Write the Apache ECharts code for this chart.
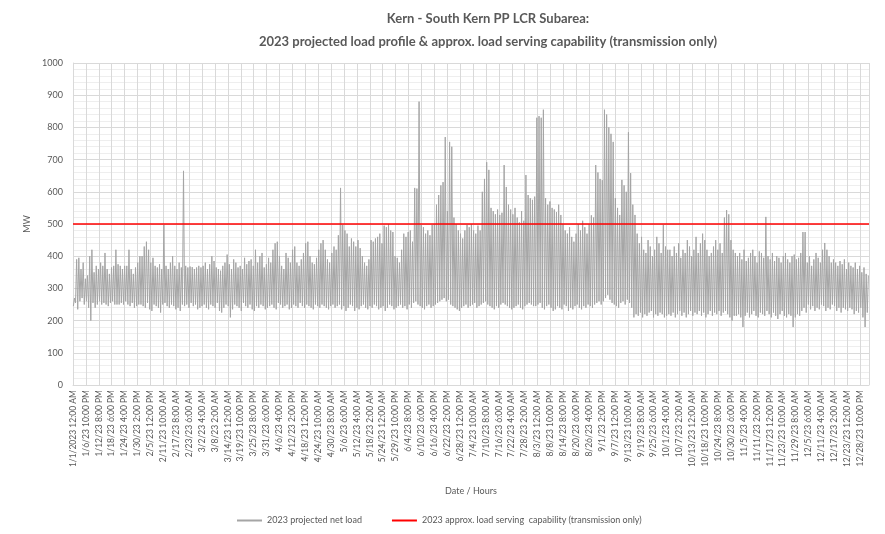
<!DOCTYPE html>
<html>
<head>
<meta charset="utf-8">
<script src="https://cdn.jsdelivr.net/npm/echarts@6/dist/echarts.min.js"></script>
<style>
  html, body { margin: 0; padding: 0; background: #fff; }
  #chart { width: 885px; height: 534px; }
</style>
</head>
<body>
<div id="chart"></div>
<script>
// 每日峰值 / 低谷 (MW)，按月读图估计
var janPeak = [270,390,395,360,380,330,340, 400,420,350,370,360,380,370, 410,360,345,365,370,420,375, 370,360,370,370,420,360,345, 365,380,400];
var janLow  = [245,255,235,260,270,250,260, 240,200,255,240,250,260,250, 255,250,245,255,260,250,250, 250,255,250,260,250,245,255, 240,245,250];
var febPeak = [400,430,445,420,380,395,370, 365,375,360,497,370,360,380, 400,370,360,380,365,665,370, 365,368,366,360,365,370,365];
var febLow  = [250,245,240,255,235,230,250, 245,240,225,250,255,245,240, 250,245,235,240,230,250,245, 250,240,255,245,250,235,240];
var marPeak = [370,380,360,375,400,385,365, 360,355,370,380,405,375,360, 390,380,365,370,360,395,375, 385,390,370,420,380,400,410, 365,375,395];
var marLow  = [245,250,240,235,250,245,240, 255,230,225,240,250,245,210, 235,250,245,240,230,255,245, 240,250,235,230,245,240,250, 245,235,240];
var aprPeak = [380,420,440,445,400,370,360, 410,395,380,420,430,380,370, 390,410,440,445,400,380,375, 395,420,440,450,420,390,380, 410,430];
var aprLow  = [245,250,240,235,255,250,240, 245,250,235,240,250,245,240, 255,245,240,250,245,240,235, 250,245,240,250,245,240,235, 245,250];
var mayPeak = [420,465,612,497,480,470,430, 455,445,430,450,425,400,380, 370,390,450,445,455,460,470, 440,495,490,500,480,475,400, 395,380,420];
var mayLow  = [240,245,250,235,245,230,240, 250,245,230,240,235,245,250, 240,235,245,240,250,245,235, 240,245,230,240,250,245,235, 240,245,250];
var junPeak = [470,460,475,480,445,612,610,880,497,490, 470,480,465,497,500,560,590,620,630,770, 540,755,740,520,500,480,470,455,480,497];
var junLow  = [240,245,235,250,240,255,260,250,245,240, 235,245,250,240,245,250,255,260,265,270, 260,265,250,245,240,235,230,240,245,250];
var julPeak = [490,500,480,470,495,480,600,640,692,668, 550,540,530,545,528,535,683,615,560,545, 530,550,520,505,540,510,652,590,580,575, 585];
var julLow  = [240,245,250,255,240,245,250,255,260,250, 245,240,235,245,240,250,255,250,245,240, 235,240,245,250,240,235,245,250,255,250, 245];
var augPeak = [830,835,830,855, 580,560,570,550,545,537,560, 528,500,480,470,490,460,445,470,500,480, 510,490,470,500,527,520,683,660,640,636];
var augLow  = [245,250,255,240, 235,245,250,240,230,235,245, 240,235,250,245,230,240,235,245,250,240, 235,245,240,250,245,240,250,255,260,250];
var sepPeak = [855,840,800,780,755,580,550,528,637,620, 600,785,658,560,528,470,440,460,420,410, 450,430,400,420,460,440,410,497,430,420];
var sepLow  = [260,270,280,265,255,250,245,240,255,260, 250,265,255,240,210,220,215,225,210,220, 215,225,230,210,220,215,225,220,210,215];
var octPeak = [420,400,430,410,440,395,420, 410,450,430,400,420,460,410, 440,470,450,420,400,410,430, 450,420,440,410,520,543,530,450,420, 410];
var octLow  = [220,215,225,210,220,230,215, 225,210,220,230,215,225,220, 230,215,225,210,220,230,215, 225,220,230,215,225,230,220,210,200, 215];
var novPeak = [400,410,390,420,385,395,410, 420,400,380,415,410,395,522, 400,390,410,385,400,395,380, 400,410,390,380,400,405,390, 395,410];
var novLow  = [215,220,210,180,215,225,210, 220,230,215,210,225,220,215, 230,220,210,225,215,205,220, 230,215,210,220,215,180,210, 220,215];
var decPeak = [475,475,380,400,370,390,410, 395,380,420,441,420,400,380, 390,380,370,385,375,390,360, 380,370,365,380,360,370,350, 365,345,340];
var decLow  = [230,240,225,250,235,245,230, 240,235,250,245,230,240,235, 250,245,230,240,225,240,235, 230,240,235,220,230,225,240, 210,180,225];

// 输电能力上限 (MW)
var capability = 500;

// x轴标签（每142小时一个）
var tickLabels = [
  "1/1/2023 12:00 AM","1/6/23 10:00 PM","1/12/23 8:00 PM","1/18/23 6:00 PM","1/24/23 4:00 PM",
  "1/30/23 2:00 PM","2/5/23 12:00 PM","2/11/23 10:00 AM","2/17/23 8:00 AM","2/23/23 6:00 AM",
  "3/2/23 4:00 AM","3/8/23 2:00 AM","3/14/23 12:00 AM","3/19/23 10:00 PM","3/25/23 8:00 PM",
  "3/31/23 6:00 PM","4/6/23 4:00 PM","4/12/23 2:00 PM","4/18/23 12:00 PM","4/24/23 10:00 AM",
  "4/30/23 8:00 AM","5/6/23 6:00 AM","5/12/23 4:00 AM","5/18/23 2:00 AM","5/24/23 12:00 AM",
  "5/29/23 10:00 PM","6/4/23 8:00 PM","6/10/23 6:00 PM","6/16/23 4:00 PM","6/22/23 2:00 PM",
  "6/28/23 12:00 PM","7/4/23 10:00 AM","7/10/23 8:00 AM","7/16/23 6:00 AM","7/22/23 4:00 AM",
  "7/28/23 2:00 AM","8/3/23 12:00 AM","8/8/23 10:00 PM","8/14/23 8:00 PM","8/20/23 6:00 PM",
  "8/26/23 4:00 PM","9/1/23 2:00 PM","9/7/23 12:00 PM","9/13/23 10:00 AM","9/19/23 8:00 AM",
  "9/25/23 6:00 AM","10/1/23 4:00 AM","10/7/23 2:00 AM","10/13/23 12:00 AM","10/18/23 10:00 PM",
  "10/24/23 8:00 PM","10/30/23 6:00 PM","11/5/23 4:00 PM","11/11/23 2:00 PM","11/17/23 12:00 PM",
  "11/23/23 10:00 AM","11/29/23 8:00 AM","12/5/23 6:00 AM","12/11/23 4:00 AM","12/17/23 2:00 AM",
  "12/23/23 12:00 AM","12/28/23 10:00 PM"
];
var tickStep = 142; // 小时

var dailyPeak = [].concat(janPeak, febPeak, marPeak, aprPeak, mayPeak, junPeak, julPeak, augPeak, sepPeak, octPeak, novPeak, decPeak);
var dailyLow = [].concat(janLow, febLow, marLow, aprLow, mayLow, junLow, julLow, augLow, sepLow, octLow, novLow, decLow);

// 每天两个点：凌晨低谷、下午峰值
var loadData = [];
dailyPeak.forEach(function (p, d) {
  loadData.push([d * 24 + 4, dailyLow[d]]);
  loadData.push([d * 24 + 16, p]);
});

var gray = "#595959";
var myChart = echarts.init(document.getElementById("chart"));
var option = {
  animation: false,
  backgroundColor: "#fff",
  title: {
    text: "Kern - South Kern PP LCR Subarea:\n2023 projected load profile & approx. load serving capability (transmission only)",
    left: 483,
    top: 2,
    textAlign: "center",
    textStyle: {
      fontFamily: "Lato",
      fontSize: 13,
      fontWeight: "bold",
      color: gray,
      lineHeight: 23
    }
  },
  legend: {
    left: 232,
    top: 511,
    itemGap: 30,
    itemWidth: 25,
    itemHeight: 2,
    icon: "rect",
    textStyle: { fontSize: 9, color: gray, fontFamily: "Lato" },
    data: ["2023 projected net load", "2023 approx. load serving  capability (transmission only)"]
  },
  grid: {
    left: 73,
    right: 16,
    top: 63,
    bottom: 149,
    containLabel: false
  },
  xAxis: {
    type: "value",
    min: 0,
    max: 8759,
    interval: tickStep,
    name: "Date / Hours",
    nameLocation: "middle",
    nameGap: 102,
    nameTextStyle: { fontSize: 9, color: gray, fontFamily: "Lato" },
    axisLine: { lineStyle: { color: "#d9d9d9" } },
    axisTick: { show: false },
    axisLabel: {
      rotate: 90,
      fontSize: 8.5,
      color: gray,
      fontFamily: "Lato",
      margin: 5,
      showMaxLabel: false,
      formatter: function (v) {
        var i = Math.round(v / tickStep);
        return v % tickStep === 0 && tickLabels[i] ? tickLabels[i] : "";
      }
    },
    splitLine: { show: true, lineStyle: { color: "#d9d9d9", width: 1 } }
  },
  yAxis: {
    type: "value",
    min: 0,
    max: 1000,
    interval: 100,
    name: "MW",
    nameLocation: "middle",
    nameRotate: 90,
    nameGap: 36,
    nameTextStyle: { fontSize: 9, color: gray, fontFamily: "Lato" },
    axisLine: { show: true, lineStyle: { color: "#d9d9d9" } },
    axisTick: { show: false },
    axisLabel: {
      fontSize: 9, color: gray, fontFamily: "Lato", margin: 10,
      formatter: function (v) { return String(v); }
    },
    splitLine: { lineStyle: { color: "#d9d9d9" } },
    minorSplitLine: { show: true, lineStyle: { color: "#eeeeee" } },
    minorTick: { show: false, splitNumber: 5 }
  },
  series: [
    {
      name: "2023 projected net load",
      type: "line",
      symbol: "none",
      lineStyle: { color: "#a5a5a5", width: 1 },
      itemStyle: { color: "#a5a5a5" },
      data: loadData
    },
    {
      name: "2023 approx. load serving  capability (transmission only)",
      type: "line",
      symbol: "none",
      lineStyle: { color: "#ff0000", width: 1.5 },
      itemStyle: { color: "#ff0000" },
      data: [[0, capability], [8759, capability]]
    }
  ]
};
myChart.setOption(option);
</script>
</body>
</html>
